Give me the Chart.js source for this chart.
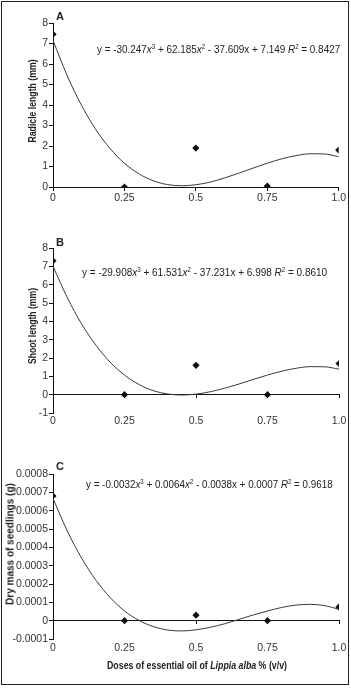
<!DOCTYPE html>
<html>
<head>
<meta charset="utf-8">
<script src="https://cdn.jsdelivr.net/npm/chart.js@4.4.1/dist/chart.umd.min.js"></script>
<style>
  body { margin: 0; background: #fff; }
  #page { position: relative; width: 351px; height: 688px; overflow: hidden; background: #fff;
    font-family: "Liberation Sans", Arial, sans-serif; color: #222; }
  #frame { position: absolute; left: 1px; top: 1px; width: 346px; height: 682px; border: 1px solid #222; }
  canvas { position: absolute; left: 0; }
  .txt { position: absolute; font-size: 11.5px; line-height: 14px; white-space: nowrap; transform-origin: 0 50%; }
  .lbl { position: absolute; font-weight: bold; font-size: 11px; line-height: 14px; }
  .ttl { position: absolute; font-weight: bold; font-size: 11px; line-height: 13px; white-space: nowrap; }
  sup { font-size: 7px; vertical-align: 4px; line-height: 0; }
</style>
</head>
<body>
<div id="page">
  <div id="frame"></div>
  <canvas id="chartA" width="351" height="222" style="top:0"></canvas>
  <canvas id="chartB" width="351" height="224" style="top:222px"></canvas>
  <canvas id="chartC" width="351" height="242" style="top:446px"></canvas>

  <div class="lbl" style="left:56px;top:9px">A</div>
  <div class="lbl" style="left:56px;top:235px">B</div>
  <div class="lbl" style="left:56px;top:459px">C</div>

  <div class="txt" id="eqA" style="left:97px;top:42px">y = -30.247<i>x</i><sup>3</sup> + 62.185<i>x</i><sup>2</sup> - 37.609x + 7.149 <i>R</i><sup>2</sup> = 0.8427</div>
  <div class="txt" id="eqB" style="left:82px;top:265px">y = -29.908<i>x</i><sup>3</sup> + 61.531<i>x</i><sup>2</sup> - 37.231x + 6.998 <i>R</i><sup>2</sup> = 0.8610</div>
  <div class="txt" id="eqC" style="left:86px;top:477px">y = -0.0032<i>x</i><sup>3</sup> + 0.0064<i>x</i><sup>2</sup> - 0.0038x + 0.0007 <i>R</i><sup>2</sup> = 0.9618</div>

  <div class="ttl" id="ytA" style="left:32px;top:101px">Radicle length (mm)</div>
  <div class="ttl" id="ytB" style="left:32px;top:326px">Shoot length (mm)</div>
  <div class="ttl" id="ytC" style="left:10px;top:544px">Dry mass of seedlings (g)</div>
  <div class="ttl" id="xtC" style="left:197px;top:665px">Doses of essential oil of <i>Lippia alba</i> % (v/v)</div>
</div>
<script>
// doses of Lippia alba essential oil, % (v/v)
var doses = [0, 0.25, 0.5, 0.75, 1.0];
var xTicks = [0, 0.25, 0.5, 0.75, 1.0];
var xTickLabels = ["0", "0.25", "0.5", "0.75", "1.0"];

// measured means
var radicle = [7.45, 0, 1.9, 0.05, 1.8];
var shoot = [7.3, 0, 1.6, 0, 1.7];
var dryMass = [0.00068, 0, 0.00003, 0, 0.000075];

// fitted cubic trend lines
var trendX = [0, 0.05, 0.1, 0.15, 0.2, 0.25, 0.3, 0.35, 0.4, 0.45, 0.5, 0.55, 0.6, 0.65, 0.7, 0.75, 0.8, 0.85, 0.9, 0.95, 1.0];
var trendRadicle = [7.15, 5.42, 3.98, 2.80, 1.87, 1.16, 0.65, 0.31, 0.12, 0.06, 0.11, 0.24, 0.44, 0.67, 0.92, 1.16, 1.37, 1.53, 1.62, 1.61, 1.48];
var trendShoot = [7.00, 5.29, 3.86, 2.70, 1.77, 1.07, 0.56, 0.22, 0.04, -0.02, 0.03, 0.16, 0.35, 0.58, 0.83, 1.07, 1.28, 1.44, 1.53, 1.52, 1.39];
var trendDryMass = [0.000667, 0.000489, 0.000341, 0.000221, 0.000126, 0.000053, 0.000002, -0.000032, -0.000051, -0.000056, -0.000050, -0.000036, -0.000017, 0.000007, 0.000031, 0.000053, 0.000072, 0.000085, 0.000089, 0.000082, 0.000062];

// y axis ticks
var yTicksA = [0, 1, 2, 3, 4, 5, 6, 7, 8];
var yLabelsA = ["0", "1", "2", "3", "4", "5", "6", "7", "8"];
var yTicksB = [-1, 0, 1, 2, 3, 4, 5, 6, 7, 8];
var yLabelsB = ["-1", "0", "1", "2", "3", "4", "5", "6", "7", "8"];
var yTicksC = [-0.0001, 0, 0.0001, 0.0002, 0.0003, 0.0004, 0.0005, 0.0006, 0.0007, 0.0008];
var yLabelsC = ["-0.0001", "0", "0.0001", "0.0002", "0.0003", "0.0004", "0.0005", "0.0006", "0.0007", "0.0008"];

var tickFont = { family: '"Liberation Sans", Arial, sans-serif', size: 10.5 };

function makeChart(id, values, trend, yTicks, yLabels, lay) {
  "use strict";
  var pts = doses.map(function (d, i) { return { x: d, y: values[i] }; });
  var line = trendX.map(function (d, i) { return { x: d, y: trend[i] }; });

  return new Chart(document.getElementById(id), {
    type: "scatter",
    data: {
      datasets: [
        {
          data: pts,
          xAxisID: "x",
          yAxisID: "y",
          pointStyle: "rectRot",
          pointRadius: 3.6,
          backgroundColor: "#111",
          borderColor: "#111",
          borderWidth: 0,
        },
        {
          data: line,
          xAxisID: "x",
          yAxisID: "y",
          showLine: true,
          pointRadius: 0,
          borderColor: "#3a3a3a",
          borderWidth: 1,
          cubicInterpolationMode: "monotone",
          fill: false,
        },
      ],
    },
    options: {
      responsive: false,
      animation: false,
      devicePixelRatio: 1,
      layout: { padding: { left: lay.left, right: 12, top: lay.top, bottom: lay.bottom } },
      plugins: { legend: { display: false }, tooltip: { enabled: false } },
      scales: {
        x: {
          type: "linear",
          position: "bottom",
          min: 0,
          max: 1,
          afterBuildTicks: function (s) { s.ticks = xTicks.map(function (v) { return { value: v }; }); },
          afterFit: function (s) { s.height = 20; },
          grid: { display: false, drawTicks: false },
          border: { display: false },
          ticks: {
            padding: lay.xPad,
            color: "#333",
            font: tickFont,
            maxRotation: 0,
            autoSkip: false,
            callback: function (v, i) { return xTickLabels[i]; },
          },
        },
        x0: {
          type: "linear",
          axis: "x",
          position: { y: 0 },
          min: 0,
          max: 1,
          afterBuildTicks: function (s) { s.ticks = xTicks.map(function (v) { return { value: v }; }); },
          ticks: { display: false },
          grid: { drawOnChartArea: false, tickLength: 3, color: "#111" },
          border: { color: "#111" },
        },
        y: {
          type: "linear",
          min: yTicks[0],
          max: yTicks[yTicks.length - 1],
          afterBuildTicks: function (s) { s.ticks = yTicks.map(function (v) { return { value: v }; }); },
          afterFit: function (s) { s.width = 53 - lay.left; },
          grid: { drawOnChartArea: false, tickLength: 4, color: "#111" },
          border: { color: "#111" },
          ticks: {
            padding: 1,
            color: "#333",
            font: tickFont,
            callback: function (v, i) { return yLabels[i]; },
          },
        },
      },
    },
  });
}

makeChart("chartA", radicle, trendRadicle, yTicksA, yLabelsA, { left: 0, top: 23, bottom: 15, xPad: 5 });
makeChart("chartB", shoot, trendShoot, yTicksB, yLabelsB, { left: 0, top: 26, bottom: 13, xPad: 2 });
makeChart("chartC", dryMass, trendDryMass, yTicksC, yLabelsC, { left: 0, top: 28, bottom: 29, xPad: 3 });

// squeeze texts to the narrow face of the original
function fitLeft(id, w) {
  var el = document.getElementById(id);
  el.style.transform = "scaleX(" + (w / el.offsetWidth) + ")";
}
function fitCenter(id, w, rotate) {
  var el = document.getElementById(id);
  var k = w / el.offsetWidth;
  el.style.transform = "translate(-50%, -50%)" + (rotate ? " rotate(-90deg)" : "") + " scaleX(" + k + ")";
}
fitLeft("eqA", 243);
fitLeft("eqB", 245);
fitLeft("eqC", 247);
fitCenter("ytA", 83, true);
fitCenter("ytB", 76, true);
fitCenter("ytC", 122, true);
fitCenter("xtC", 180, false);
</script>
</body>
</html>
